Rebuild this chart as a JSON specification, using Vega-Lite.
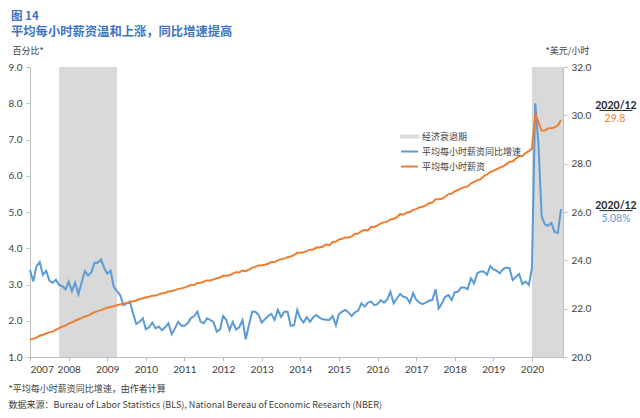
{
  "$schema": "https://vega.github.io/schema/vega-lite/v6.json",
  "width": 533,
  "height": 290,
  "autosize": {"type": "none"},
  "padding": {"left": 30, "top": 67, "right": 77, "bottom": 61},
  "background": "white",
  "config": {
    "view": {"stroke": null},
    "font": "Lato, 'Noto Sans CJK SC', sans-serif",
    "axis": {"grid": false, "labelFont": "Lato, 'Noto Sans CJK SC', sans-serif", "labelFontSize": 10, "labelColor": "#404040", "domainColor": "#bfbfbf", "tickColor": "#bfbfbf", "tickSize": 4, "titleFont": "'Noto Sans CJK SC', sans-serif", "titleFontSize": 9, "titleFontWeight": "normal", "titleColor": "#404040"}
  },
  "title": {
    "text": "图 14",
    "subtitle": "平均每小时薪资温和上涨，同比增速提高",
    "anchor": "start",
    "frame": "group",
    "dx": -19,
    "offset": 8,
    "font": "'Noto Sans CJK SC', sans-serif",
    "fontSize": 11.5,
    "fontWeight": "bold",
    "color": "#3E74C0",
    "subtitleFont": "'Noto Sans CJK SC', sans-serif",
    "subtitleFontSize": 12.3,
    "subtitleFontWeight": "bold",
    "subtitleColor": "#3E74C0",
    "subtitlePadding": 3
  },
  "datasets": {
    "recessions": [
      {"start": "2007-12-01", "end": "2009-06-01"},
      {"start": "2020-03-01", "end": "2020-12-20"}
    ],
    "wages": [
      {"date": "2007-03-01", "yoy": 3.40, "wage": 20.72},
      {"date": "2007-04-01", "yoy": 3.08, "wage": 20.76},
      {"date": "2007-05-01", "yoy": 3.50, "wage": 20.80},
      {"date": "2007-06-01", "yoy": 3.62, "wage": 20.88},
      {"date": "2007-07-01", "yoy": 3.27, "wage": 20.92},
      {"date": "2007-08-01", "yoy": 3.38, "wage": 20.97},
      {"date": "2007-09-01", "yoy": 3.10, "wage": 21.03},
      {"date": "2007-10-01", "yoy": 3.05, "wage": 21.05},
      {"date": "2007-11-01", "yoy": 3.13, "wage": 21.12},
      {"date": "2007-12-01", "yoy": 2.99, "wage": 21.19},
      {"date": "2008-01-01", "yoy": 2.95, "wage": 21.26},
      {"date": "2008-02-01", "yoy": 2.87, "wage": 21.31},
      {"date": "2008-03-01", "yoy": 3.08, "wage": 21.38},
      {"date": "2008-04-01", "yoy": 2.82, "wage": 21.43},
      {"date": "2008-05-01", "yoy": 3.05, "wage": 21.50},
      {"date": "2008-06-01", "yoy": 2.73, "wage": 21.56},
      {"date": "2008-07-01", "yoy": 3.05, "wage": 21.61},
      {"date": "2008-08-01", "yoy": 3.37, "wage": 21.68},
      {"date": "2008-09-01", "yoy": 3.25, "wage": 21.71},
      {"date": "2008-10-01", "yoy": 3.33, "wage": 21.78},
      {"date": "2008-11-01", "yoy": 3.60, "wage": 21.86},
      {"date": "2008-12-01", "yoy": 3.60, "wage": 21.90},
      {"date": "2009-01-01", "yoy": 3.69, "wage": 21.94},
      {"date": "2009-02-01", "yoy": 3.45, "wage": 21.99},
      {"date": "2009-03-01", "yoy": 3.30, "wage": 22.04},
      {"date": "2009-04-01", "yoy": 3.38, "wage": 22.07},
      {"date": "2009-05-01", "yoy": 2.94, "wage": 22.10},
      {"date": "2009-06-01", "yoy": 2.82, "wage": 22.14},
      {"date": "2009-07-01", "yoy": 2.71, "wage": 22.17},
      {"date": "2009-08-01", "yoy": 2.43, "wage": 22.21},
      {"date": "2009-09-01", "yoy": 2.48, "wage": 22.23},
      {"date": "2009-10-01", "yoy": 2.53, "wage": 22.28},
      {"date": "2009-11-01", "yoy": 2.19, "wage": 22.31},
      {"date": "2009-12-01", "yoy": 1.91, "wage": 22.34},
      {"date": "2010-01-01", "yoy": 1.97, "wage": 22.40},
      {"date": "2010-02-01", "yoy": 2.07, "wage": 22.43},
      {"date": "2010-03-01", "yoy": 1.76, "wage": 22.46},
      {"date": "2010-04-01", "yoy": 1.82, "wage": 22.49},
      {"date": "2010-05-01", "yoy": 1.95, "wage": 22.53},
      {"date": "2010-06-01", "yoy": 1.79, "wage": 22.54},
      {"date": "2010-07-01", "yoy": 1.84, "wage": 22.59},
      {"date": "2010-08-01", "yoy": 1.74, "wage": 22.64},
      {"date": "2010-09-01", "yoy": 1.82, "wage": 22.65},
      {"date": "2010-10-01", "yoy": 1.93, "wage": 22.71},
      {"date": "2010-11-01", "yoy": 1.63, "wage": 22.73},
      {"date": "2010-12-01", "yoy": 1.79, "wage": 22.76},
      {"date": "2011-01-01", "yoy": 1.97, "wage": 22.82},
      {"date": "2011-02-01", "yoy": 1.86, "wage": 22.84},
      {"date": "2011-03-01", "yoy": 1.86, "wage": 22.87},
      {"date": "2011-04-01", "yoy": 1.93, "wage": 22.92},
      {"date": "2011-05-01", "yoy": 2.07, "wage": 22.98},
      {"date": "2011-06-01", "yoy": 2.13, "wage": 22.98},
      {"date": "2011-07-01", "yoy": 2.25, "wage": 23.06},
      {"date": "2011-08-01", "yoy": 1.97, "wage": 23.07},
      {"date": "2011-09-01", "yoy": 1.93, "wage": 23.12},
      {"date": "2011-10-01", "yoy": 2.07, "wage": 23.17},
      {"date": "2011-11-01", "yoy": 2.02, "wage": 23.17},
      {"date": "2011-12-01", "yoy": 1.97, "wage": 23.21},
      {"date": "2012-01-01", "yoy": 1.70, "wage": 23.26},
      {"date": "2012-02-01", "yoy": 1.76, "wage": 23.29},
      {"date": "2012-03-01", "yoy": 2.13, "wage": 23.36},
      {"date": "2012-04-01", "yoy": 2.02, "wage": 23.36},
      {"date": "2012-05-01", "yoy": 1.74, "wage": 23.38},
      {"date": "2012-06-01", "yoy": 1.97, "wage": 23.45},
      {"date": "2012-07-01", "yoy": 1.76, "wage": 23.51},
      {"date": "2012-08-01", "yoy": 1.82, "wage": 23.50},
      {"date": "2012-09-01", "yoy": 2.02, "wage": 23.58},
      {"date": "2012-10-01", "yoy": 1.49, "wage": 23.55},
      {"date": "2012-11-01", "yoy": 1.88, "wage": 23.62},
      {"date": "2012-12-01", "yoy": 2.25, "wage": 23.70},
      {"date": "2013-01-01", "yoy": 2.25, "wage": 23.73},
      {"date": "2013-02-01", "yoy": 2.16, "wage": 23.79},
      {"date": "2013-03-01", "yoy": 1.95, "wage": 23.80},
      {"date": "2013-04-01", "yoy": 2.04, "wage": 23.82},
      {"date": "2013-05-01", "yoy": 2.13, "wage": 23.86},
      {"date": "2013-06-01", "yoy": 2.19, "wage": 23.93},
      {"date": "2013-07-01", "yoy": 2.02, "wage": 23.93},
      {"date": "2013-08-01", "yoy": 2.30, "wage": 24.00},
      {"date": "2013-09-01", "yoy": 2.10, "wage": 24.05},
      {"date": "2013-10-01", "yoy": 2.25, "wage": 24.07},
      {"date": "2013-11-01", "yoy": 2.25, "wage": 24.13},
      {"date": "2013-12-01", "yoy": 1.86, "wage": 24.16},
      {"date": "2014-01-01", "yoy": 1.88, "wage": 24.22},
      {"date": "2014-02-01", "yoy": 2.30, "wage": 24.31},
      {"date": "2014-03-01", "yoy": 2.07, "wage": 24.31},
      {"date": "2014-04-01", "yoy": 1.95, "wage": 24.33},
      {"date": "2014-05-01", "yoy": 2.10, "wage": 24.38},
      {"date": "2014-06-01", "yoy": 1.97, "wage": 24.44},
      {"date": "2014-07-01", "yoy": 2.10, "wage": 24.45},
      {"date": "2014-08-01", "yoy": 2.16, "wage": 24.53},
      {"date": "2014-09-01", "yoy": 2.08, "wage": 24.53},
      {"date": "2014-10-01", "yoy": 2.04, "wage": 24.57},
      {"date": "2014-11-01", "yoy": 2.03, "wage": 24.66},
      {"date": "2014-12-01", "yoy": 2.02, "wage": 24.62},
      {"date": "2015-01-01", "yoy": 2.13, "wage": 24.76},
      {"date": "2015-02-01", "yoy": 1.88, "wage": 24.78},
      {"date": "2015-03-01", "yoy": 2.18, "wage": 24.86},
      {"date": "2015-04-01", "yoy": 2.25, "wage": 24.89},
      {"date": "2015-05-01", "yoy": 2.30, "wage": 24.95},
      {"date": "2015-06-01", "yoy": 2.23, "wage": 24.95},
      {"date": "2015-07-01", "yoy": 2.13, "wage": 24.99},
      {"date": "2015-08-01", "yoy": 2.23, "wage": 25.10},
      {"date": "2015-09-01", "yoy": 2.28, "wage": 25.11},
      {"date": "2015-10-01", "yoy": 2.48, "wage": 25.21},
      {"date": "2015-11-01", "yoy": 2.39, "wage": 25.25},
      {"date": "2015-12-01", "yoy": 2.50, "wage": 25.24},
      {"date": "2016-01-01", "yoy": 2.53, "wage": 25.39},
      {"date": "2016-02-01", "yoy": 2.43, "wage": 25.38},
      {"date": "2016-03-01", "yoy": 2.46, "wage": 25.45},
      {"date": "2016-04-01", "yoy": 2.57, "wage": 25.53},
      {"date": "2016-05-01", "yoy": 2.50, "wage": 25.57},
      {"date": "2016-06-01", "yoy": 2.59, "wage": 25.60},
      {"date": "2016-07-01", "yoy": 2.80, "wage": 25.69},
      {"date": "2016-08-01", "yoy": 2.48, "wage": 25.72},
      {"date": "2016-09-01", "yoy": 2.62, "wage": 25.79},
      {"date": "2016-10-01", "yoy": 2.74, "wage": 25.91},
      {"date": "2016-11-01", "yoy": 2.66, "wage": 25.89},
      {"date": "2016-12-01", "yoy": 2.64, "wage": 25.97},
      {"date": "2017-01-01", "yoy": 2.50, "wage": 26.00},
      {"date": "2017-02-01", "yoy": 2.76, "wage": 26.09},
      {"date": "2017-03-01", "yoy": 2.59, "wage": 26.12},
      {"date": "2017-04-01", "yoy": 2.50, "wage": 26.19},
      {"date": "2017-05-01", "yoy": 2.46, "wage": 26.22},
      {"date": "2017-06-01", "yoy": 2.50, "wage": 26.27},
      {"date": "2017-07-01", "yoy": 2.55, "wage": 26.36},
      {"date": "2017-08-01", "yoy": 2.57, "wage": 26.39},
      {"date": "2017-09-01", "yoy": 2.87, "wage": 26.53},
      {"date": "2017-10-01", "yoy": 2.34, "wage": 26.53},
      {"date": "2017-11-01", "yoy": 2.48, "wage": 26.55},
      {"date": "2017-12-01", "yoy": 2.66, "wage": 26.63},
      {"date": "2018-01-01", "yoy": 2.71, "wage": 26.74},
      {"date": "2018-02-01", "yoy": 2.57, "wage": 26.76},
      {"date": "2018-03-01", "yoy": 2.78, "wage": 26.85},
      {"date": "2018-04-01", "yoy": 2.80, "wage": 26.91},
      {"date": "2018-05-01", "yoy": 2.92, "wage": 26.98},
      {"date": "2018-06-01", "yoy": 2.92, "wage": 27.03},
      {"date": "2018-07-01", "yoy": 2.87, "wage": 27.06},
      {"date": "2018-08-01", "yoy": 3.17, "wage": 27.18},
      {"date": "2018-09-01", "yoy": 3.03, "wage": 27.25},
      {"date": "2018-10-01", "yoy": 3.31, "wage": 27.31},
      {"date": "2018-11-01", "yoy": 3.36, "wage": 27.36},
      {"date": "2018-12-01", "yoy": 3.36, "wage": 27.48},
      {"date": "2019-01-01", "yoy": 3.27, "wage": 27.56},
      {"date": "2019-02-01", "yoy": 3.51, "wage": 27.66},
      {"date": "2019-03-01", "yoy": 3.42, "wage": 27.70},
      {"date": "2019-04-01", "yoy": 3.38, "wage": 27.76},
      {"date": "2019-05-01", "yoy": 3.31, "wage": 27.84},
      {"date": "2019-06-01", "yoy": 3.42, "wage": 27.89},
      {"date": "2019-07-01", "yoy": 3.47, "wage": 27.97},
      {"date": "2019-08-01", "yoy": 3.45, "wage": 28.08},
      {"date": "2019-09-01", "yoy": 3.12, "wage": 28.09},
      {"date": "2019-10-01", "yoy": 3.21, "wage": 28.21},
      {"date": "2019-11-01", "yoy": 3.29, "wage": 28.31},
      {"date": "2019-12-01", "yoy": 3.01, "wage": 28.32},
      {"date": "2020-01-01", "yoy": 3.08, "wage": 28.44},
      {"date": "2020-02-01", "yoy": 2.99, "wage": 28.52},
      {"date": "2020-03-01", "yoy": 3.45, "wage": 28.62},
      {"date": "2020-04-01", "yoy": 8.00, "wage": 30.02},
      {"date": "2020-05-01", "yoy": 6.90, "wage": 29.74},
      {"date": "2020-06-01", "yoy": 4.88, "wage": 29.36},
      {"date": "2020-07-01", "yoy": 4.66, "wage": 29.37},
      {"date": "2020-08-01", "yoy": 4.62, "wage": 29.47},
      {"date": "2020-09-01", "yoy": 4.70, "wage": 29.47},
      {"date": "2020-10-01", "yoy": 4.45, "wage": 29.50},
      {"date": "2020-11-01", "yoy": 4.42, "wage": 29.58},
      {"date": "2020-12-01", "yoy": 5.08, "wage": 29.81}
    ]
  },
  "layer": [
    {
      "data": {"name": "recessions"},
      "mark": {"type": "rect"},
      "encoding": {
        "x": {
          "field": "start", "type": "temporal",
          "scale": {"type": "utc", "domain": [{"year": 2007, "month": 3, "date": 1, "utc": true}, {"year": 2020, "month": 12, "date": 20, "utc": true}]},
          "axis": {
            "values": [
              {"year": 2007, "month": 3, "date": 1, "utc": true},
              {"year": 2008, "month": 3, "date": 1, "utc": true},
              {"year": 2009, "month": 3, "date": 1, "utc": true},
              {"year": 2010, "month": 3, "date": 1, "utc": true},
              {"year": 2011, "month": 3, "date": 1, "utc": true},
              {"year": 2012, "month": 3, "date": 1, "utc": true},
              {"year": 2013, "month": 3, "date": 1, "utc": true},
              {"year": 2014, "month": 3, "date": 1, "utc": true},
              {"year": 2015, "month": 3, "date": 1, "utc": true},
              {"year": 2016, "month": 3, "date": 1, "utc": true},
              {"year": 2017, "month": 3, "date": 1, "utc": true},
              {"year": 2018, "month": 3, "date": 1, "utc": true},
              {"year": 2019, "month": 3, "date": 1, "utc": true},
              {"year": 2020, "month": 3, "date": 1, "utc": true}
            ],
            "format": "%Y",
            "labelAngle": 0,
            "labelPadding": 3,
            "title": ["*平均每小时薪资同比增速，由作者计算", "数据来源：Bureau of Labor Statistics (BLS), National Bereau of Economic Research (NBER)"],
            "titleAnchor": "start",
            "titleAlign": "left",
            "titleBaseline": "middle",
            "titleX": -22,
            "titleY": 31,
            "titleLineHeight": 16,
            "titleFont": "'Noto Sans CJK SC', sans-serif",
            "titleFontSize": 9
          }
        },
        "x2": {"field": "end"},
        "color": {
          "datum": "经济衰退期",
          "type": "nominal",
          "scale": {"domain": ["经济衰退期", "平均每小时薪资同比增速", "平均每小时薪资"], "range": ["#d9d9d9", "#5b9bd5", "#ed7d31"]},
          "legend": {
            "orient": "none",
            "legendX": 370,
            "legendY": 60,
            "title": null,
            "padding": 0,
            "labelFont": "'Noto Sans CJK SC', sans-serif",
            "labelFontSize": 9,
            "labelColor": "#404040",
            "labelOffset": 3,
            "symbolSize": 289,
            "rowPadding": -3,
            "encode": {
              "symbols": {
                "update": {
                  "shape": {"signal": "datum.index === 0 ? 'M-1,-0.12H1V0.12H-1Z' : 'stroke'"},
                  "stroke": {"signal": "scale('color', datum.value)"},
                  "strokeWidth": {"value": 2},
                  "fill": {"signal": "datum.index === 0 ? scale('color', datum.value) : 'transparent'"},
                  "opacity": {"value": 1}
                }
              }
            }
          }
        }
      }
    },
    {
      "data": {"name": "wages"},
      "encoding": {
        "x": {"field": "date", "type": "temporal"},
        "y": {
          "field": "yoy", "type": "quantitative",
          "scale": {"domain": [1, 9], "nice": false, "zero": false},
          "axis": {"orient": "left", "values": [1, 2, 3, 4, 5, 6, 7, 8, 9], "format": ".1f", "labelPadding": 4, "title": "百分比*", "titleAngle": 0, "titleAlign": "left", "titleBaseline": "middle", "titleX": -18, "titleY": -17}
        }
      },
      "layer": [
        {
          "mark": {"type": "line", "strokeWidth": 2},
          "encoding": {"color": {"datum": "平均每小时薪资同比增速", "type": "nominal"}}
        },
        {
          "transform": [
            {"filter": "utcyear(toDate(datum.date)) == 2020 && utcmonth(toDate(datum.date)) == 11"},
            {"calculate": "format(datum.yoy, '.2f') + '%'", "as": "label"}
          ],
          "layer": [
            {
              "mark": {"type": "text", "dx": 55, "dy": -3, "fontSize": 10.5, "fontWeight": "bold", "color": "#262626", "font": "Lato, sans-serif"},
              "encoding": {"text": {"field": "date", "type": "temporal", "timeUnit": "utcyearmonth", "format": "%Y/%m"}}
            },
            {
              "mark": {"type": "text", "dx": 55, "dy": 9.5, "fontSize": 10.5, "color": "#5b9bd5", "font": "Lato, sans-serif"},
              "encoding": {"text": {"field": "label", "type": "nominal"}}
            },
            {
              "mark": {"type": "rule", "xOffset": 38.5, "x2Offset": 71.5, "yOffset": 1.5, "color": "#262626", "strokeWidth": 1},
              "encoding": {"x2": {"field": "date"}}
            }
          ]
        }
      ]
    },
    {
      "data": {"name": "wages"},
      "encoding": {
        "x": {"field": "date", "type": "temporal"},
        "y": {
          "field": "wage", "type": "quantitative",
          "scale": {"domain": [20, 32], "nice": false, "zero": false},
          "axis": {"orient": "right", "values": [20, 22, 24, 26, 28, 30, 32], "format": ".1f", "labelPadding": 4, "title": "*美元/小时", "titleAngle": 0, "titleAlign": "left", "titleBaseline": "middle", "titleX": -18, "titleY": -17}
        }
      },
      "layer": [
        {
          "mark": {"type": "line", "strokeWidth": 2},
          "encoding": {"color": {"datum": "平均每小时薪资", "type": "nominal"}}
        },
        {
          "transform": [
            {"filter": "utcyear(toDate(datum.date)) == 2020 && utcmonth(toDate(datum.date)) == 11"},
            {"calculate": "format(datum.wage, '.1f')", "as": "label"}
          ],
          "layer": [
            {
              "mark": {"type": "text", "dx": 55, "dy": -14, "fontSize": 10.5, "fontWeight": "bold", "color": "#262626", "font": "Lato, sans-serif"},
              "encoding": {"text": {"field": "date", "type": "temporal", "timeUnit": "utcyearmonth", "format": "%Y/%m"}}
            },
            {
              "mark": {"type": "text", "dx": 54, "dy": -1, "fontSize": 10.5, "color": "#ed7d31", "font": "Lato, sans-serif"},
              "encoding": {"text": {"field": "label", "type": "nominal"}}
            },
            {
              "mark": {"type": "rule", "xOffset": 38.5, "x2Offset": 71.5, "yOffset": -9.5, "color": "#262626", "strokeWidth": 1},
              "encoding": {"x2": {"field": "date"}}
            }
          ]
        }
      ]
    }
  ],
  "resolve": {"scale": {"y": "independent"}}
}
